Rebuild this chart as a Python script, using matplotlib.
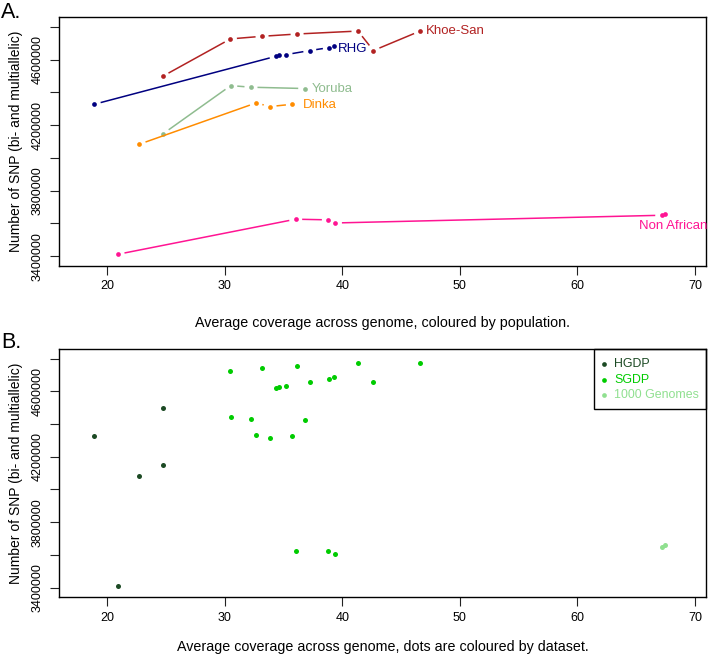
import numpy as np
import matplotlib
matplotlib.use("Agg")
import matplotlib.pyplot as plt
from matplotlib.patches import Rectangle

plt.rcParams['font.family'] = ['Liberation Sans', 'DejaVu Sans']

# ---- data ----
populations = ["Khoe-San", "RHG", "Yoruba", "Dinka", "Non African"]
khoe_cov = [24.74, 30.49, 33.18, 36.16, 41.34, 42.65, 46.62]
khoe_snp = [4499000, 4727000, 4743000, 4757000, 4775000, 4656000, 4775000]
khoe_set = ["HGDP", "SGDP", "SGDP", "SGDP", "SGDP", "SGDP", "SGDP"]
rhg_cov = [18.92, 34.37, 34.63, 35.22, 37.24, 38.90, 39.33]
rhg_snp = [4328000, 4621000, 4629000, 4631000, 4656000, 4674000, 4686000]
rhg_set = ["HGDP", "SGDP", "SGDP", "SGDP", "SGDP", "SGDP", "SGDP"]
yoruba_cov = [24.79, 30.52, 32.24, 36.81]
yoruba_snp = [4149000, 4442000, 4432000, 4424000]
yoruba_set = ["HGDP", "SGDP", "SGDP", "SGDP"]
dinka_cov = [22.75, 32.67, 33.86, 35.76]
dinka_snp = [4084000, 4336000, 4314000, 4328000]
dinka_set = ["HGDP", "SGDP", "SGDP", "SGDP"]
nonafr_cov = [20.94, 36.04, 38.82, 39.42, 67.17, 67.45]
nonafr_snp = [3412000, 3626000, 3622000, 3603000, 3650000, 3660000]
nonafr_set = ["HGDP", "SGDP", "SGDP", "SGDP", "1000 Genomes", "1000 Genomes"]

pop_colors = {"Khoe-San": "#B22222", "RHG": "#000080", "Yoruba": "#8FBC8F",
              "Dinka": "#FF8C00", "Non African": "#FF1493"}
datasets = ["HGDP", "SGDP", "1000 Genomes"]
set_colors = {"HGDP": "#1C4A24", "SGDP": "#00CC00", "1000 Genomes": "#90E090"}

groups = {
    "Khoe-San": (khoe_cov, khoe_snp, khoe_set),
    "RHG": (rhg_cov, rhg_snp, rhg_set),
    "Yoruba": (yoruba_cov, yoruba_snp, yoruba_set),
    "Dinka": (dinka_cov, dinka_snp, dinka_set),
    "Non African": (nonafr_cov, nonafr_snp, nonafr_set),
}

# label anchors (left edge, vertical centre)
label_pos = {"Khoe-San": (47.13, 4773600), "RHG": (39.66, 4668000),
             "Yoruba": (37.41, 4423800), "Dinka": (36.64, 4326000),
             "Non African": (65.20, 3583000)}

xticks = [20, 30, 40, 50, 60, 70]
yticks = [3400000, 3600000, 3800000, 4000000, 4200000, 4400000, 4600000, 4800000]
ylabels = ["3400000", "", "3800000", "", "4200000", "", "4600000", ""]
xlim = (15.94, 70.89)
ylim = (3342000, 4859000)

W, H = 712, 658
fig = plt.figure(figsize=(W / 100, H / 100), dpi=100)
FS = 9.5
TFS = 9.0
LFS = 10.3

AX_L, AX_R = 59.3, 705.5

def make_axes(top, bottom):
    ax = fig.add_axes([AX_L / W, (H - bottom) / H, (AX_R - AX_L) / W, (bottom - top) / H])
    ax.set_xlim(*xlim)
    ax.set_ylim(*ylim)
    ax.set_xticks(xticks)
    ax.set_xticklabels([str(t) for t in xticks], fontsize=TFS)
    ax.set_yticks(yticks)
    ax.set_yticklabels(ylabels, fontsize=TFS, rotation=90, va='center')
    ax.tick_params(direction='out', length=6.5, width=0.8, color='#222222')
    ax.tick_params(axis='x', pad=4)
    ax.tick_params(axis='y', pad=5)
    for s in ax.spines.values():
        s.set_linewidth(1.0)
    ax.set_ylabel("Number of SNP (bi- and multiallelic)", fontsize=10, labelpad=6)
    return ax

axA = make_axes(17.3, 265.7)
axB = make_axes(349.0, 597.0)

xc = (AX_L + AX_R) / 2 / W
fig.text(xc, 1 - 323 / H, "Average coverage across genome, coloured by population.",
         fontsize=LFS, ha='center', va='center')
fig.text(xc, 1 - 647 / H, "Average coverage across genome, dots are coloured by dataset.",
         fontsize=LFS, ha='center', va='center')

fig.text(1 / W, 1 - 12 / H, "A.", fontsize=15.5, va='center', ha='left')
fig.text(1 / W, 1 - 343 / H, "B.", fontsize=15.5, va='center', ha='left')

# ---- panel A: R type="b" style lines (gaps around points) ----
GAP = 6.5
for pop, (cov, snp, _) in groups.items():
    col = pop_colors[pop]
    order = np.argsort(cov)
    xs = np.array(cov)[order]
    ys = np.array(snp)[order]
    pts = axA.transData.transform(np.column_stack([xs, ys]))
    for i in range(len(pts) - 1):
        p0, p1 = pts[i], pts[i + 1]
        d = p1 - p0
        L = np.hypot(*d)
        if L <= 2 * GAP:
            continue
        u = d / L
        a = axA.transData.inverted().transform(p0 + u * GAP)
        b = axA.transData.inverted().transform(p1 - u * GAP)
        axA.plot([a[0], b[0]], [a[1], b[1]], color=col, lw=1.1, solid_capstyle='butt')
    axA.plot(xs, ys, 'o', color=col, ms=3.4, mew=0)
    lx, ly = label_pos[pop]
    axA.text(lx, ly, pop, color=col, fontsize=FS, ha='left', va='center')

# ---- panel B: coloured by dataset ----
for pop, (cov, snp, sets) in groups.items():
    for x, y, s in zip(cov, snp, sets):
        axB.plot([x], [y], 'o', color=set_colors[s], ms=3.6, mew=0)

# legend box (drawn like R's legend)
bw = AX_R - AX_L
bh = 597.0 - 349.0
def ax_x(px):
    return (px - AX_L) / bw
def ax_y(py):
    return (597.0 - py) / bh
axB.add_patch(Rectangle((ax_x(594), ax_y(409)), ax_x(AX_R) - ax_x(594), 1 - ax_y(409),
                        transform=axB.transAxes, fill=False, ec='black', lw=1.0, clip_on=False))
for s, py in zip(datasets, [364.3, 380.0, 395.3]):
    axB.plot([ax_x(604)], [ax_y(py)], 'o', color=set_colors[s], ms=3.4, mew=0,
             transform=axB.transAxes, clip_on=False)
    axB.text(ax_x(614), ax_y(py), s, color=set_colors[s], fontsize=8.9,
             ha='left', va='center', transform=axB.transAxes)

fig.savefig("out.png", dpi=100)
